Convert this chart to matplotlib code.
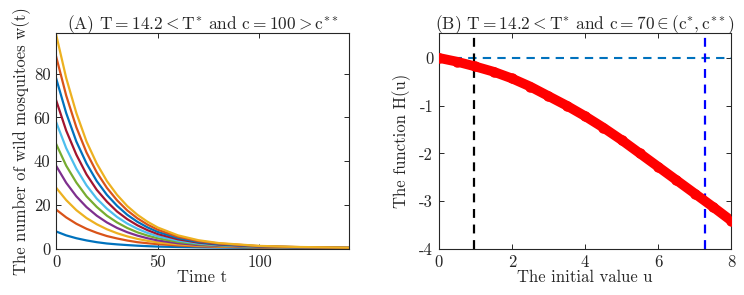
import matplotlib

matplotlib.use("Agg")
import matplotlib.pyplot as plt

plt.rcParams["font.family"] = ["cmr10", "DejaVu Serif"]
plt.rcParams["mathtext.fontset"] = "cm"
plt.rcParams["axes.unicode_minus"] = False
plt.rcParams["axes.formatter.use_mathtext"] = False

INK = "#262626"

# ── panel A: w(t) for several initial values ──
time_t = [0, 5, 10, 15, 20, 25, 30, 35, 40, 45, 50, 60, 70, 80, 100, 120, 144]
w_curves = [
    [8, 6.2, 4.9, 3.9, 3.1, 2.5, 2.1, 1.78, 1.5, 1.28, 1.1, 0.9, 0.75, 0.65, 0.5, 0.42, 0.35],
    [18, 14.4, 11.5, 9.2, 7.4, 5.9, 4.8, 3.86, 3.1, 2.61, 2.2, 1.6, 1.2, 1.0, 0.7, 0.55, 0.4],
    [28, 22.3, 17.7, 14.1, 11.3, 9.0, 7.2, 5.75, 4.6, 3.71, 3.0, 2.1, 1.5, 1.2, 0.8, 0.6, 0.4],
    [38, 30.2, 24, 19.1, 15.2, 12.1, 9.6, 7.65, 6.1, 4.88, 3.9, 2.6, 1.8, 1.4, 0.9, 0.6, 0.45],
    [48, 38, 30.3, 24, 19.2, 15.2, 12.1, 9.59, 7.6, 6.1, 4.9, 3.2, 2.2, 1.6, 0.95, 0.65, 0.45],
    [58, 46, 36.6, 29, 23, 18.4, 14.6, 11.6, 9.2, 7.3, 5.8, 3.8, 2.5, 1.8, 1.0, 0.7, 0.5],
    [68, 54, 43, 34, 27, 21.6, 17.1, 13.6, 10.8, 8.57, 6.8, 4.4, 2.9, 2.0, 1.1, 0.75, 0.5],
    [78, 62, 49, 39, 31, 24.7, 19.7, 15.6, 12.4, 9.83, 7.8, 5.0, 3.2, 2.2, 1.2, 0.8, 0.55],
    [88, 70, 55.5, 44, 35, 27.9, 22.2, 17.6, 14, 11.1, 8.8, 5.6, 3.6, 2.5, 1.3, 0.85, 0.55],
    [98, 78, 62, 49, 39, 31, 24.7, 19.6, 15.6, 12.4, 9.8, 6.2, 4.0, 2.7, 1.4, 0.9, 0.6],
]
matlab_colors = [
    "#0072bd", "#d95319", "#edb120", "#7e2f8e", "#77ac30",
    "#4dbeee", "#a2142f", "#0072bd", "#d95319", "#edb120",
]

# ── panel B: H(u) ──
u_vals = [0, 0.5, 1, 1.5, 2, 2.5, 3, 3.5, 4, 4.5, 5, 5.5, 6, 6.5, 7, 7.5, 8]
h_vals = [0, -0.08, -0.18, -0.29, -0.43, -0.6, -0.8, -1.0, -1.22, -1.46,
          -1.72, -2.0, -2.28, -2.56, -2.84, -3.12, -3.41]
u_low = 0.96
u_high = 7.29


def style_axes(ax):
    for s in ax.spines.values():
        s.set_color(INK)
        s.set_linewidth(0.8)
    ax.tick_params(direction="in", length=3.5, width=0.7, top=True,
                   right=True, colors=INK, labelsize=12, pad=4)


fig = plt.figure(figsize=(7.44, 2.95), dpi=100)
ax1 = fig.add_axes([0.0753, 0.156, 0.3937, 0.732])
ax2 = fig.add_axes([0.5897, 0.156, 0.3933, 0.732])

for vals, col in zip(w_curves, matlab_colors):
    ax1.plot(time_t, vals, color=col, linewidth=1.6)
ax1.set_xlim(0, 144)
ax1.set_ylim(0, 98.5)
ax1.set_xticks([0, 50, 100])
ax1.set_yticks([0, 20, 40, 60, 80])
ax1.set_xlabel("Time t", fontsize=12, color=INK, labelpad=0)
ax1.set_ylabel("The number of wild mosquitoes w(t)", fontsize=12, color=INK,
               labelpad=2)
ax1.set_title(r"(A) $\mathrm{T}=14.2<\mathrm{T}^{*}$ and "
              r"$\mathrm{c}=100>\mathrm{c}^{**}$", fontsize=12.5, color=INK,
              pad=3)
style_axes(ax1)

ax2.axhline(0, color="#0072bd", linewidth=1.5, linestyle=(0, (4, 3)))
ax2.axvline(u_low, color="black", linewidth=1.6, linestyle=(0, (4, 3)))
ax2.axvline(u_high, color="blue", linewidth=1.6, linestyle=(0, (4, 3)))
ax2.plot(u_vals, h_vals, color="red", linewidth=7, marker="o",
         markersize=6.5, solid_capstyle="round", zorder=5)
ax2.set_xlim(0, 8)
ax2.set_ylim(-4, 0.52)
ax2.set_xticks([0, 2, 4, 6, 8])
ax2.set_yticks([-4, -3, -2, -1, 0])
ax2.set_xlabel("The initial value u", fontsize=12, color=INK, labelpad=0)
ax2.set_ylabel("The function H(u)", fontsize=12, color=INK, labelpad=6)
ax2.set_title(r"(B) $\mathrm{T}=14.2<\mathrm{T}^{*}$ and "
              r"$\mathrm{c}=70\in(\mathrm{c}^{*},\mathrm{c}^{**})$",
              fontsize=12.5, color=INK, pad=3)
style_axes(ax2)

fig.savefig("out.png", dpi=100, facecolor="white")
